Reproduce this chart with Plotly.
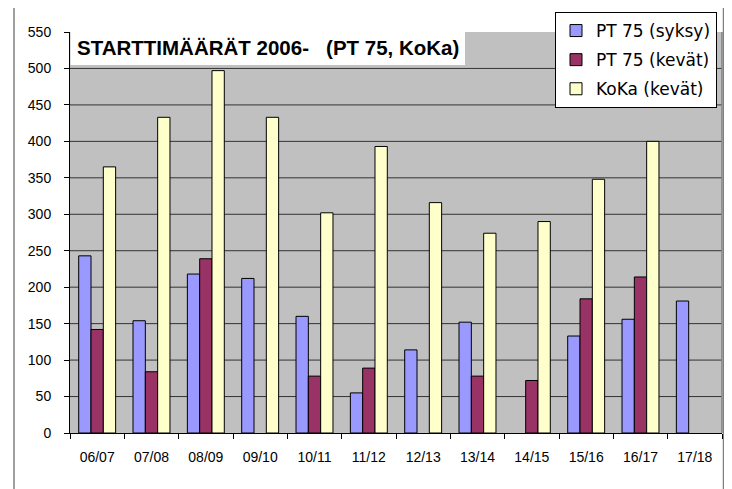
import plotly.graph_objects as go

categories = ["06/07", "07/08", "08/09", "09/10", "10/11", "11/12",
              "12/13", "13/14", "14/15", "15/16", "16/17", "17/18"]
pt75_syksy = [243, 154, 218, 212, 160, 55, 114, 152, None, 133, 156, 181]
pt75_kevat = [142, 84, 239, None, 78, 89, None, 78, 72, 184, 214, None]
koka_kevat = [365, 433, 497, 433, 302, 393, 316, 274, 290, 348, 400, None]

series_names = ["PT 75 (syksy)", "PT 75 (kevät)", "KoKa (kevät)"]
series_colors = ["#9999FF", "#993366", "#FFFFCC"]
title_text = "STARTTIMÄÄRÄT 2006-\u00a0\u00a0\u00a0(PT 75, KoKa)"
grid_values = [50, 100, 150, 200, 250, 300, 350, 400, 450, 500]

# page coordinates (browser body has an 8px default margin)
OFF = 8
W, H = 732 - OFF, 489 - OFF
L, R, T, B = 70 - OFF, 722 - OFF, 32 - OFF, 433 - OFF


def px(x):
    return (x - OFF - L) / (R - L)


def py(y):
    return (B - (y - OFF)) / (B - T)


fig = go.Figure()
for i, (name, vals, col) in enumerate(zip(series_names,
                                           [pt75_syksy, pt75_kevat, koka_kevat],
                                           series_colors)):
    fig.add_trace(go.Bar(
        x=categories, y=vals, name=name, legendgroup=f"g{i}",
        marker=dict(color=col, line=dict(color="#000000", width=1)),
    ))

shapes = [
    dict(type="rect", xref="paper", yref="paper",
         x0=px(14), x1=px(723.5), y0=py(500), y1=py(5),
         line=dict(color="#808080", width=1.5), layer="below"),
]
for g in grid_values:
    shapes.append(dict(type="line", xref="paper", yref="y", x0=0, x1=1, y0=g, y1=g,
                       line=dict(color="#333333", width=1), layer="below"))
shapes += [
    dict(type="line", xref="paper", yref="paper",
         x0=1, x1=1, y0=0, y1=1,
         line=dict(color="#808080", width=1.5)),
    dict(type="rect", xref="paper", yref="paper",
         x0=px(70.5), x1=px(465), y0=py(65), y1=py(31),
         fillcolor="white", line=dict(width=0), layer="above"),
]

fig.update_layout(
    width=W, height=H,
    margin=dict(l=L, r=W - R, t=T, b=H - B, pad=0, autoexpand=False),
    paper_bgcolor="white",
    plot_bgcolor="#C0C0C0",
    barmode="group", bargap=0.32, bargroupgap=0,
    font=dict(family="Liberation Sans, Arial, sans-serif", size=14, color="#000000"),
    showlegend=True,
    legend=dict(
        x=px(555), y=py(12), xanchor="left", yanchor="top",
        bgcolor="white", bordercolor="#000000", borderwidth=1,
        font=dict(family="DejaVu Sans, Verdana, sans-serif", size=17, color="#000000"),
        tracegroupgap=4, traceorder="grouped",
    ),
    xaxis=dict(
        type="category", showline=True, linecolor="#000000", linewidth=1,
        ticks="outside", tickson="boundaries", ticklen=5, tickcolor="#000000",
        showgrid=False, ticklabelstandoff=11,
    ),
    yaxis=dict(
        range=[0, 550], dtick=50, tick0=0,
        showline=True, linecolor="#000000", linewidth=1,
        ticks="outside", ticklen=5, tickcolor="#000000",
        showgrid=False, zeroline=False, ticklabelstandoff=10,
    ),
    shapes=shapes,
    annotations=[
        dict(text="<b>" + title_text + "</b>", xref="paper", yref="paper",
             x=px(75), y=py(48), xanchor="left", yanchor="middle",
             showarrow=False,
             font=dict(family="Liberation Sans, Arial, sans-serif",
                       size=20.5, color="#000000")),
    ],
)

fig.write_html("out.html")
